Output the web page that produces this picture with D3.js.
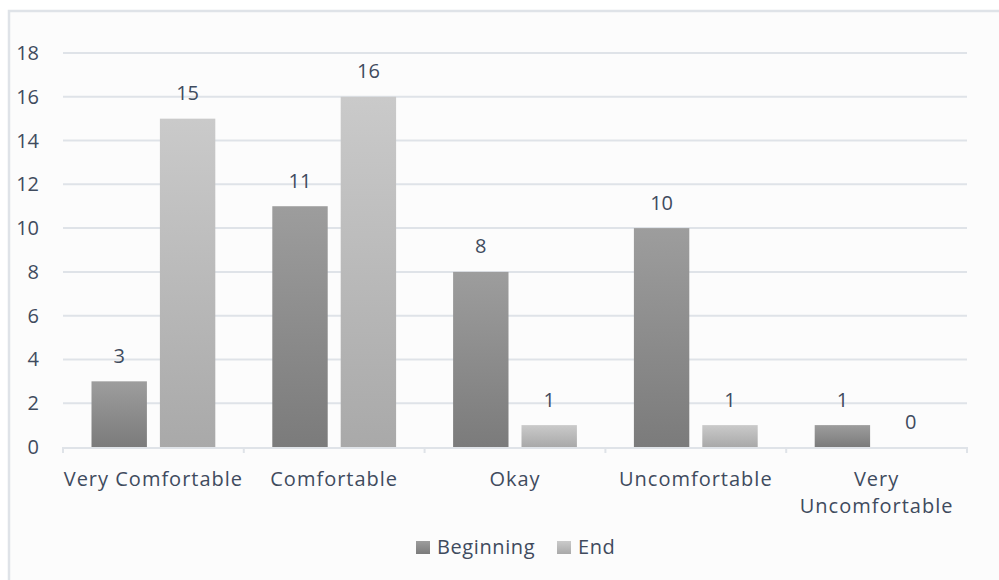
<!DOCTYPE html>
<html>
<head>
<meta charset="utf-8">
<script src="https://cdn.jsdelivr.net/npm/d3@7"></script>
<style>
  html, body { margin: 0; padding: 0; background: #ffffff; }
  svg text { font-family: "Open Sans", sans-serif; fill: #3f4b5e; }
</style>
</head>
<body>
<div id="chart"></div>
<script>

// data
let categories = ["Very Comfortable", "Comfortable", "Okay", "Uncomfortable", "Very Uncomfortable"];
let seriesNames = ["Beginning", "End"];
let beginning = [3, 11, 8, 10, 1];
let end = [15, 16, 1, 1, 0];
let yTicks = [0, 2, 4, 6, 8, 10, 12, 14, 16, 18];

///////////////////////////////////////////////////////////////////////

let width = 999, height = 580;
let plot = {left: 63, right: 967, top: 53, bottom: 447};

let svg = d3.select("#chart")
            .append("svg")
            .attr("width", width)
            .attr("height", height);

let defs = svg.append("defs");

// each series gets a top->bottom gradient like the original
let gradColors = {
    "Beginning": ["#9d9d9d", "#7b7b7b"],
    "End": ["#cacaca", "#a9a9a9"]
};
seriesNames.forEach(function(name){
    let g = defs.append("linearGradient")
                .attr("id", "grad_" + name)
                .attr("x1", 0).attr("y1", 0)
                .attr("x2", 0).attr("y2", 1);
    g.append("stop").attr("offset", "0%").attr("stop-color", gradColors[name][0]);
    g.append("stop").attr("offset", "100%").attr("stop-color", gradColors[name][1]);
});

// chart frame
svg.append("rect")
   .attr("x", 9)
   .attr("y", 11)
   .attr("width", width + 20)
   .attr("height", height + 20)
   .attr("fill", "#fcfcfc")
   .attr("stroke", "#dfe3e8")
   .attr("stroke-width", 2.5);

let x0 = d3.scaleBand()
           .domain(categories)
           .range([plot.left, plot.right])
           .paddingInner(0)
           .paddingOuter(0);

let x1 = d3.scaleBand()
           .domain(seriesNames)
           .range([28.5, x0.bandwidth() - 28.5])
           .paddingInner(0.19)
           .paddingOuter(0);

let y = d3.scaleLinear()
          .domain([0, 18])
          .range([plot.bottom, plot.top]);

// gridlines
svg.append("g")
   .selectAll("line")
   .data(yTicks.filter(d => d > 0))
   .join("line")
   .attr("x1", plot.left)
   .attr("x2", plot.right)
   .attr("y1", d => y(d))
   .attr("y2", d => y(d))
   .attr("stroke", "#dfe3e8")
   .attr("stroke-width", 2);

// y labels
svg.append("g")
   .selectAll("text")
   .data(yTicks)
   .join("text")
   .attr("x", 39)
   .attr("y", d => y(d) + 7)
   .attr("text-anchor", "end")
   .attr("font-size", 20)
   .text(d => d);

// bars
let rows = categories.map(function(c, i){
    return {cat: c, values: [
        {series: "Beginning", value: beginning[i]},
        {series: "End", value: end[i]}
    ]};
});

let groups = svg.append("g")
   .selectAll("g")
   .data(rows)
   .join("g")
   .attr("transform", d => "translate(" + x0(d.cat) + ",0)");

groups.selectAll("rect")
   .data(d => d.values)
   .join("rect")
   .attr("x", d => x1(d.series))
   .attr("y", d => y(d.value))
   .attr("width", x1.bandwidth())
   .attr("height", d => y(0) - y(d.value))
   .attr("fill", d => "url(#grad_" + d.series + ")");

groups.selectAll("text")
   .data(d => d.values)
   .join("text")
   .attr("x", d => x1(d.series) + x1.bandwidth() / 2)
   .attr("y", d => y(d.value) - 18.5)
   .attr("text-anchor", "middle")
   .attr("font-size", 20)
   .text(d => d.value);

// x axis line + ticks
let axisG = svg.append("g");
axisG.append("line")
   .attr("x1", plot.left)
   .attr("x2", plot.right)
   .attr("y1", y(0) + 1)
   .attr("y2", y(0) + 1)
   .attr("stroke", "#dfe3e8")
   .attr("stroke-width", 2);

let tickPos = categories.map(c => x0(c)).concat([plot.right]);
axisG.selectAll("line.tick")
   .data(tickPos)
   .join("line")
   .attr("class", "tick")
   .attr("x1", d => d)
   .attr("x2", d => d)
   .attr("y1", y(0))
   .attr("y2", y(0) + 6)
   .attr("stroke", "#dfe3e8")
   .attr("stroke-width", 2);

// category labels (the last one wraps in the original)
let catLines = {"Very Uncomfortable": ["Very", "Uncomfortable"]};
let xLabels = svg.append("g")
   .selectAll("text")
   .data(categories)
   .join("text")
   .attr("x", d => x0(d) + x0.bandwidth() / 2)
   .attr("y", 486)
   .attr("text-anchor", "middle")
   .attr("font-size", 20)
   .attr("letter-spacing", 1);

xLabels.each(function(d){
    let lines = catLines[d] || [d];
    let t = d3.select(this);
    lines.forEach(function(line, i){
        t.append("tspan")
         .attr("x", x0(d) + x0.bandwidth() / 2)
         .attr("dy", i == 0 ? 0 : 27)
         .text(line);
    });
});

// legend
let legendItems = [
    {name: "Beginning", x: 416},
    {name: "End", x: 557}
];
let legend = svg.append("g")
   .selectAll("g")
   .data(legendItems)
   .join("g")
   .attr("transform", d => "translate(" + d.x + ",541)");

legend.append("rect")
   .attr("width", 14)
   .attr("height", 13)
   .attr("fill", d => "url(#grad_" + d.name + ")");

legend.append("text")
   .attr("x", 21)
   .attr("y", 13)
   .attr("font-size", 20)
   .attr("letter-spacing", 0.6)
   .text(d => d.name);

</script>
</body>
</html>
